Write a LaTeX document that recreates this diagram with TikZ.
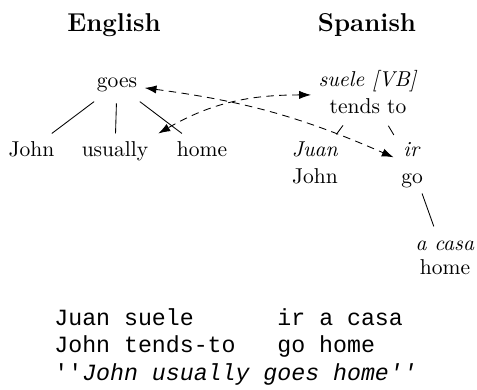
\documentclass[tikz,border=0pt]{standalone}
\usepackage{fontspec}
\setmonofont{Liberation Mono}
\usetikzlibrary{arrows.meta,calc}
\tikzset{
  word/.style={anchor=base, inner sep=3.33pt, font=\fontsize{10}{12.5}\selectfont},
  multi/.style={word, align=center},
  title/.style={anchor=base, inner sep=0pt, font=\fontsize{12}{14}\selectfont\bfseries},
  treeline/.style={draw, line width=0.4pt},
  alignarrow/.style={draw, line width=0.4pt, dash pattern=on 3.5pt off 2.5pt,
    {Latex[length=5.5pt,width=3.8pt]}-{Latex[length=5.5pt,width=3.8pt]}},
  gloss/.style={anchor=base west, inner sep=0pt, align=left,
    font=\fontsize{10.8}{12.7}\selectfont\ttfamily}
}
\begin{document}
\begin{tikzpicture}[x=0.465pt, y=0.465pt]
\useasboundingbox (0,0) rectangle (477,-389);
% titles
\node[title] (en) at (114,-31) {English};
\node[title] (es) at (367,-31) {Spanish};
% English tree
\node[word] (goes) at (117,-87) {goes};
\node[word] (john) at (31.5,-156) {John};
\node[word] (usually) at (115,-156) {usually};
\node[word] (homeE) at (202,-156) {home};
\draw[treeline, shorten <=2pt] (goes) -- (john);
\draw[treeline, shorten <=2pt] (goes) -- (usually);
\draw[treeline, shorten <=2pt] (goes) -- (homeE);
% Spanish tree (base anchor = last line)
\node[multi] (suele) at (368,-113.3) {\textit{suele [VB]}\\tends to};
\node[multi] (juan) at (315,-183.5) {\textit{Juan}\\John};
\node[multi] (irgo) at (412,-183.5) {\textit{ir}\\go};
\node[multi] (acasa) at (445,-274.3) {\textit{a casa}\\[-1.5pt]home};
\draw[treeline, shorten <=2.5pt] (suele) -- (juan);
\draw[treeline, shorten <=2.5pt] (suele) -- (irgo);
\draw[treeline, shorten <=-1pt, shorten >=3.5pt] (irgo) -- (acasa);
% alignment links
\coordinate (homeTip) at ($(homeE.north west)+(-11,0)$);
\draw[alignarrow] (goes) to[bend left=8] (irgo);
\draw[alignarrow] ($(suele.west)+(0,-3)$) to[out=180,in=30] (homeTip);
% gloss
\node[gloss] (gl) at (54,-380) {Juan~suele~~~~~~ir~a~casa\\John~tends-to~~~go~home\\''\textit{John~usually~goes~home''}};
\end{tikzpicture}
\end{document}
